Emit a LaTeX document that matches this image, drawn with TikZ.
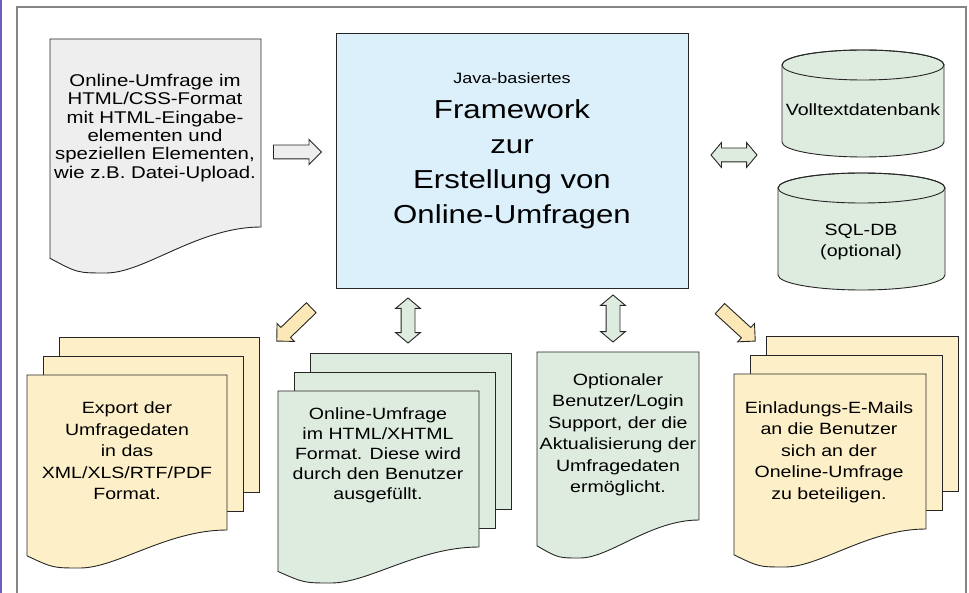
\documentclass[tikz,border=0pt]{standalone}
\usepackage{fontspec}
\setmainfont[FakeStretch=1.2]{Liberation Sans}
\usetikzlibrary{shapes.arrows}

\definecolor{docgray}{HTML}{EEEEEE}
\definecolor{frameblue}{HTML}{DCF0FC}
\definecolor{docgreen}{HTML}{DEEBDF}
\definecolor{docyellow}{HTML}{FDF0C8}
\definecolor{arrowyellow}{HTML}{FBE8B6}
\definecolor{framegray}{HTML}{858585}
\definecolor{edgepurple}{HTML}{6B5FC2}

\tikzset{
	sheet/.style={draw=black!85, line width=0.9pt},
	doctext/.style={align=center, inner sep=0pt, font=\fontsize{16.3}{21.5}\selectfont},
	blockarrow/.style={single arrow, draw=black!85, line width=0.9pt, inner xsep=0pt, inner ysep=6.5pt,
		single arrow head extend=5.5pt, single arrow tip angle=90, minimum height=48pt},
	twoway/.style={double arrow, draw=black!85, fill=docgreen, line width=0.9pt, inner xsep=0pt, inner ysep=6.5pt,
		double arrow head extend=5.5pt, double arrow tip angle=100, minimum height=46pt},
}

% one sheet with a wavy lower edge: fill, x, y, width, height, dip
\newcommand{\docsheet}[6]{%
	\pgfmathsetmacro{\xr}{#2+#4}
	\pgfmathsetmacro{\yr}{#3+#5}
	\pgfmathsetmacro{\ylow}{#3+#5+#6}
	\pgfmathsetmacro{\yl}{#3+#5+0.68*#6}
	\pgfmathsetmacro{\xlow}{#2+0.265*#4}
	\pgfmathsetmacro{\ca}{#2+0.7*#4}
	\pgfmathsetmacro{\cb}{#2+0.45*#4}
	\pgfmathsetmacro{\cc}{#2+0.13*#4}
	\draw[sheet, fill=#1] (#2,#3) -- (\xr,#3) -- (\xr,\yr)
		.. controls (\ca,\yr) and (\cb,\ylow) .. (\xlow,\ylow)
		.. controls (\cc,\ylow) .. (#2,\yl) -- cycle;
}

% three sheets stacked: fill, x, y, width, height, dip
\newcommand{\docstack}[6]{%
	\foreach \k in {2,1} {
		\draw[sheet, fill=#1] ({#2+16*\k},{#3-19*\k}) rectangle ++(#4,#5);
	}
	\docsheet{#1}{#2}{#3}{#4}{#5}{#6}
}

% database drum: centre x, top, bottom, x radius, y radius
\newcommand{\dbdrum}[5]{%
	\pgfmathsetmacro{\ytop}{#2+#5}
	\pgfmathsetmacro{\ybot}{#3-#5}
	\draw[sheet, fill=docgreen] ({#1-#4},\ytop) -- ({#1-#4},\ybot)
		arc[start angle=180, end angle=0, x radius=#4, y radius=#5] -- ({#1+#4},\ytop)
		arc[start angle=0, end angle=-180, x radius=#4, y radius=#5] -- cycle;
	\draw[sheet] (#1,\ytop) ellipse[x radius=#4, y radius=#5];
}

\begin{document}
\begin{tikzpicture}[x=1pt, y=-1pt]
	\useasboundingbox (0,0) rectangle (969,593);
	
	% outer frame
	\fill[edgepurple] (0,0) rectangle (2,593);
	\draw[framegray, line width=2pt] (17,593) -- (17,7) -- (966,7) -- (966,593);
	
	% input page
	\docsheet{docgray}{50}{39}{211}{188}{46}
	\node[doctext, font=\fontsize{17}{18.3}\selectfont] (input) at (155,128)
		{Online-Umfrage im\\HTML/CSS-Format\\mit HTML-Eingabe-\\elementen und\\speziellen Elementen,\\wie z.B. Datei-Upload.};
	
	% framework
	\node[draw=black!85, line width=0.9pt, fill=frameblue, minimum width=352pt, minimum height=255pt] (framework) at (512,160.5) {};
	\node[align=center, inner sep=0pt, font=\fontsize{26}{35}\selectfont] (frametitle) at (512,151)
		{{\fontsize{15}{17}\selectfont Java-basiertes}\\Framework\\zur\\Erstellung von\\Online-Umfragen};
	
	% databases
	\dbdrum{863}{50}{157}{81}{15}
	\dbdrum{861.5}{173}{290}{83.5}{15}
	\node[doctext] (volltext) at (863,110) {Volltextdatenbank};
	\node[doctext] (sqldb) at (861,242) {SQL-DB\\(optional)};
	
	% lower row
	\docstack{docyellow}{27}{375}{200}{155}{38}
	\node[doctext] (export) at (127,451) {Export der\\Umfragedaten\\in das\\XML/XLS/RTF/PDF\\Format.};
	
	\docstack{docgreen}{278}{391}{201}{156}{36}
	\node[doctext, font=\fontsize{16.3}{20}\selectfont] (survey) at (378,455) {Online-Umfrage\\im HTML/XHTML\\Format. Diese wird\\durch den Benutzer\\ausgef\"ullt.};
	
	\docsheet{docgreen}{537}{352}{162}{168}{38}
	\node[doctext] (login) at (618,435) {Optionaler\\Benutzer/Login\\Support, der die\\Aktualisierung der\\Umfragedaten\\erm\"oglicht.};
	
	\docstack{docyellow}{734}{374}{192}{155}{38}
	\node[doctext] (mails) at (829,452) {Einladungs-E-Mails\\an die Benutzer\\sich an der\\Oneline-Umfrage\\zu beteiligen.};
	
	% block arrows
	\node[blockarrow, fill=docgray] (toframe) at (294,152) {};
	\node[twoway] (todb) at (734,155) {};
	\node[blockarrow, fill=arrowyellow, rotate=224] (toexport) at (296.5,322) {};
	\node[twoway, rotate=90, minimum height=45pt] (tosurvey) at (408,320.5) {};
	\node[twoway, rotate=90, minimum height=47pt] (tologin) at (613,318.5) {};
	\node[blockarrow, fill=arrowyellow, rotate=-42.5] (tomails) at (735,322.5) {};
\end{tikzpicture}
\end{document}
